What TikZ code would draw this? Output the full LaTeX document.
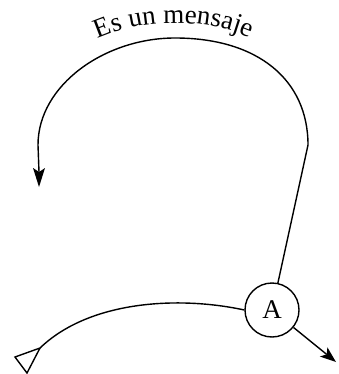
\documentclass[tikz,border=0pt]{standalone}
\usepackage{fontspec}
\setmainfont{Liberation Serif}
\usetikzlibrary{decorations.text}
\newcommand{\msgfont}{\fontsize{27}{32}\selectfont}

\begin{document}
\begin{tikzpicture}[x=1pt,y=1pt,line width=1.4pt]
							\tikzstyle{every node}+=[inner sep=0pt]
							\useasboundingbox (0,0) rectangle (338,-374);
							\node [black,circle,draw,minimum size=54pt] (A) at (272,-310) {\msgfont A};
							\coordinate (r) at (308,-145);
							\coordinate (l) at (39,-172);
							\coordinate (lt) at (39,-187);
							\coordinate (src) at (40,-348);
							\coordinate (o) at (326.7,-354.4);
							\coordinate (ot) at (336,-362);
							\draw [black] (A) -- (r);
							\draw [black] (r) .. controls (308,-80) and (258,-38) .. (175,-38) .. controls (105,-38) and (38,-85) .. (38,-145) -- (l);
							\fill [black] (lt) -- (33,-168) -- (l) -- (45,-168) -- cycle;
							\path [decorate,decoration={text along path,text align=center,text={|\msgfont|Es un mensaje}}] (23,-140) .. controls (23,-72) and (92,-23) .. (175,-23) .. controls (260,-23) and (323,-72) .. (323,-140);
							\draw [black] (src) .. controls (90,-300) and (180,-296) .. (A.west);
							\draw [black,line join=miter] (src) -- (15,-357) -- (27,-373) -- cycle;
							\draw [black] (A) -- (o);
							\fill [black] (ot) -- (327.4,-347.3) -- (o) -- (319.8,-356.5) -- cycle;
						\end{tikzpicture}
\end{document}
